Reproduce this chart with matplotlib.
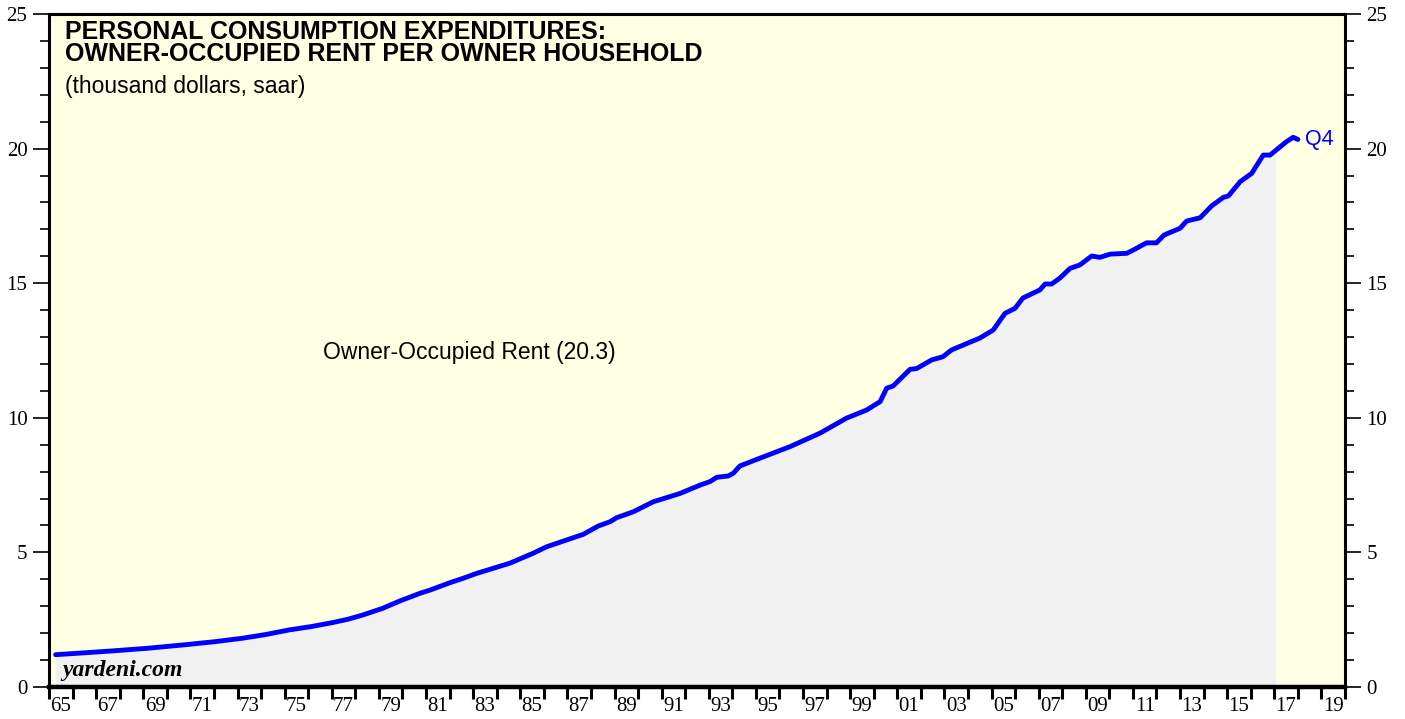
import numpy as np
import matplotlib.pyplot as plt
from matplotlib.ticker import MultipleLocator, FixedLocator, NullFormatter

# -----------------------
# Data
# -----------------------
years = [1965.28, 1966.5, 1967.83, 1969.2, 1970.66, 1972.0, 1973.2, 1974.2,
         1975.19, 1976.1, 1977.02, 1977.7, 1978.3, 1979.15, 1979.9, 1980.74,
         1981.17, 1982.0, 1982.58, 1983.15, 1984.56, 1985.55, 1986.12, 1987.67,
         1988.31, 1988.81, 1989.09, 1989.8, 1990.64, 1991.78, 1992.63, 1993.05,
         1993.34, 1993.83, 1994.04, 1994.32, 1994.61, 1995.17, 1996.45, 1997.72,
         1998.85, 1999.7, 2000.27, 2000.55, 2000.82, 2001.54, 2001.82, 2002.46,
         2002.94, 2003.3, 2004.5, 2005.07, 2005.57, 2006.0, 2006.33, 2007.05,
         2007.27, 2007.55, 2007.9, 2008.33, 2008.75, 2009.25, 2009.6, 2010.03,
         2010.74, 2011.16, 2011.58, 2012.0, 2012.32, 2013.0, 2013.28, 2013.85,
         2014.34, 2014.84, 2015.05, 2015.55, 2016.04, 2016.53, 2016.82, 2017.52,
         2017.8, 2018.0]
rent = [1.20, 1.27, 1.35, 1.44, 1.56, 1.68, 1.81, 1.95,
        2.12, 2.24, 2.39, 2.52, 2.67, 2.92, 3.20, 3.48,
        3.60, 3.87, 4.04, 4.22, 4.60, 4.97, 5.21, 5.67,
        5.98, 6.14, 6.29, 6.51, 6.88, 7.19, 7.50, 7.63,
        7.79, 7.84, 7.94, 8.21, 8.31, 8.50, 8.93, 9.43,
        9.99, 10.29, 10.60, 11.10, 11.18, 11.80, 11.83, 12.15,
        12.27, 12.52, 12.96, 13.26, 13.88, 14.07, 14.45, 14.75,
        14.97, 14.97, 15.19, 15.55, 15.68, 16.01, 15.96, 16.08,
        16.11, 16.30, 16.50, 16.50, 16.79, 17.04, 17.31, 17.43,
        17.87, 18.19, 18.24, 18.77, 19.08, 19.76, 19.76, 20.26,
        20.42, 20.34]
shade_end = 2017.05   # gray area stops at the last full year

year_labels = [f"{y % 100:02d}" for y in range(1965, 2020, 2)]
label_pos = [y + 0.5 for y in range(1965, 2020, 2)]

years = np.array(years)
rent = np.array(rent)

# -----------------------
# Figure
# -----------------------
fig = plt.figure(figsize=(14.05, 7.19), dpi=100)
ax = fig.add_axes([49 / 1405, 32 / 719, 1296 / 1405, 673 / 719])
ax.set_facecolor('#FFFFE3')

# gray area below the line
fx = np.append(years[years < shade_end], shade_end)
fy = np.interp(fx, years, rent)
ax.fill_between(fx, 0, fy, color='#F1F1F1', lw=0, zorder=1)

ax.plot(years, rent, color='#0000FF', lw=3.5, solid_capstyle='round', zorder=3)

ax.set_xlim(1965, 2020)
ax.set_ylim(0, 25)

# y axis: both sides
ax.yaxis.set_major_locator(MultipleLocator(5))
ax.yaxis.set_minor_locator(MultipleLocator(1))
ax.tick_params(axis='y', which='major', direction='out', length=11.5, width=1.2,
               left=True, right=True, labelleft=True, labelright=True,
               labelsize=15, pad=4)
ax.tick_params(axis='y', which='minor', direction='out', length=6.5, width=1.2,
               left=True, right=True)

# x axis: tick every year, labels centred between ticks
ax.xaxis.set_major_locator(FixedLocator(range(1965, 2021)))
ax.xaxis.set_major_formatter(NullFormatter())
ax.xaxis.set_minor_locator(FixedLocator(label_pos))
ax.set_xticklabels(year_labels, minor=True)
ax.tick_params(axis='x', which='major', direction='out', length=8.6, width=2.2)
ax.tick_params(axis='x', which='minor', length=0, labelsize=15, pad=7)

for lab in ax.get_xticklabels(which='both') + ax.get_yticklabels():
    lab.set_fontfamily('Liberation Serif')
for t in ax.yaxis.get_major_ticks():
    t.label2.set_fontfamily('Liberation Serif')

for side in ['left', 'right', 'top']:
    ax.spines[side].set_linewidth(2.2)
ax.spines['bottom'].set_linewidth(3.2)

# -----------------------
# Texts
# -----------------------
ax.text(0.0123, 0.9629, "PERSONAL CONSUMPTION EXPENDITURES:",
        transform=ax.transAxes, ha='left', va='baseline', fontsize=18,
        fontweight='bold', family='Liberation Sans')
ax.text(0.0123, 0.9302, "OWNER-OCCUPIED RENT PER OWNER HOUSEHOLD",
        transform=ax.transAxes, ha='left', va='baseline', fontsize=18,
        fontweight='bold', family='Liberation Sans')
ax.text(0.0123, 0.8826, "(thousand dollars, saar)", transform=ax.transAxes,
        ha='left', va='baseline', fontsize=16.5, family='Liberation Sans')
ax.text(1976.63, 12.44, "Owner-Occupied Rent (20.3)", ha='left', va='center',
        fontsize=16.5, family='Liberation Sans')
ax.text(2018.3, 20.32, "Q4", color='#0000FF', ha='left', va='center',
        fontsize=15.5, family='Liberation Sans')
ax.text(1965.55, 0.41, "yardeni.com", ha='left', va='baseline', fontsize=17,
        family='Liberation Serif', fontweight='bold', style='italic')

plt.savefig("out.png", dpi=100)
plt.close()
